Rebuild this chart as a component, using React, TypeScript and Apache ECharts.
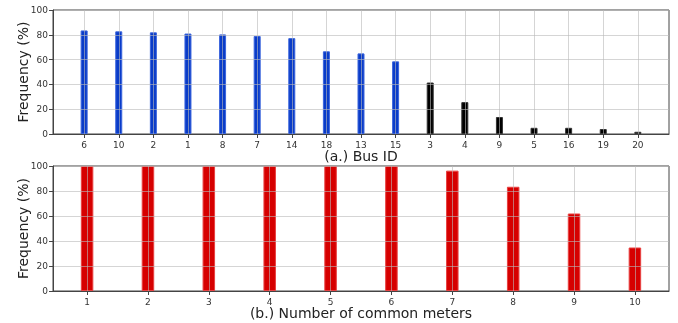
import React, { useEffect, useRef } from "react";
import * as echarts from "echarts";

const busIds = ["6", "10", "2", "1", "8", "7", "14", "18", "13", "15", "3", "4", "9", "5", "16", "19", "20"];
const busFreq = [83.5, 82.8, 82, 81, 80.3, 79, 77.3, 66.7, 65, 58.6, 41.5, 25.7, 13.7, 5, 5, 4, 1.8];
const busGroup = ["hi", "hi", "hi", "hi", "hi", "hi", "hi", "hi", "hi", "hi", "lo", "lo", "lo", "lo", "lo", "lo", "lo"];
const meterCounts = ["1", "2", "3", "4", "5", "6", "7", "8", "9", "10"];
const meterFreq = [100, 100, 100, 100, 100, 100, 96.3, 83.4, 62, 34.8];
const yTicks = [0, 20, 40, 60, 80, 100];

const FONT = "DejaVu Sans";

export default function App() {
  const ref = useRef<HTMLDivElement>(null);
  useEffect(() => {
    if (!ref.current) return;
    const chart = echarts.init(ref.current, null, { renderer: "svg" });
    const gridLine = { show: true, lineStyle: { color: "rgba(185,185,185,0.6)", width: 1 } };
    const mkX = (gi: number, labels: string[], pad: number, name: string) => {
      const idx = labels.map((_, i) => i);
      return {
        type: "value",
        gridIndex: gi,
        min: -pad,
        max: labels.length - 1 + pad,
        z: 5,
        name,
        nameLocation: "middle",
        nameGap: 15,
        nameMoveOverlap: false,
        nameTextStyle: { fontFamily: FONT, fontSize: 14, color: "#222" },
        axisLine: { show: true, onZero: false, lineStyle: { color: "#444" } },
        axisTick: { show: true, length: 4, customValues: idx, lineStyle: { color: "#444" } },
        axisLabel: {
          show: true,
          customValues: idx,
          fontFamily: FONT,
          fontSize: 9,
          color: "#333",
          margin: 6,
          formatter: (v: number) => labels[Math.round(v)] ?? "",
        },
        splitLine: gridLine,
      };
    };
    const mkY = (gi: number) => ({
      type: "value",
      gridIndex: gi,
      min: 0,
      max: 100,
      interval: 20,
      z: 5,
      name: "Frequency (%)",
      nameLocation: "middle",
      nameGap: 23,
      nameMoveOverlap: false,
      nameTextStyle: { fontFamily: FONT, fontSize: 14, color: "#222" },
      axisLine: { show: true, onZero: false, lineStyle: { color: "#444" } },
      axisTick: { show: true, length: 4, lineStyle: { color: "#444" } },
      axisLabel: {
        fontFamily: FONT,
        fontSize: 9,
        color: "#333",
        margin: 5,
        formatter: (v: number) => (yTicks.includes(v) ? String(v) : ""),
      },
      splitLine: gridLine,
    });
    chart.setOption({
      animation: false,
      grid: [
        { left: 53, right: 9, top: 10, height: 124, show: true, borderColor: "#444", borderWidth: 1, backgroundColor: "#fff" },
        { left: 53, right: 9, top: 166, height: 125, show: true, borderColor: "#444", borderWidth: 1, backgroundColor: "#fff" },
      ],
      xAxis: [
        mkX(0, busIds, 0.9, "(a.) Bus ID"),
        mkX(1, meterCounts, 0.56, "(b.) Number of common meters"),
      ],
      yAxis: [mkY(0), mkY(1)],
      series: [
        {
          type: "bar",
          xAxisIndex: 0,
          yAxisIndex: 0,
          barWidth: 7,
          data: busFreq.map((v, i) => ({
            value: [i, v],
            itemStyle: busGroup[i] === "hi"
              ? { color: "#0a3cc8", borderColor: "#3a64dc", borderWidth: 1 }
              : { color: "#000000", borderColor: "#333333", borderWidth: 1 },
          })),
        },
        {
          type: "bar",
          xAxisIndex: 1,
          yAxisIndex: 1,
          barWidth: 12.5,
          itemStyle: { color: "#d60000", borderColor: "#e84040", borderWidth: 1 },
          data: meterFreq.map((v, i) => [i, v]),
        },
      ],
    });
    return () => chart.dispose();
  }, []);
  return <div ref={ref} style={{ position: "fixed", left: 0, top: 0, width: 678, height: 323 }} />;
}
